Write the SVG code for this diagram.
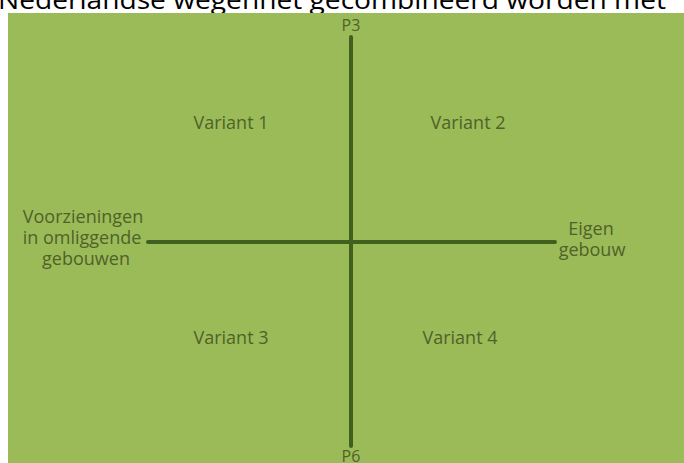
<svg xmlns="http://www.w3.org/2000/svg" width="684" height="463" viewBox="0 0 684 463">
<style>
.lbl{font-family:"Open Sans","Liberation Sans",sans-serif;font-size:18px;fill:#4f6228;text-anchor:middle}
.pl{font-family:"Open Sans","Liberation Sans",sans-serif;font-size:16px;fill:#4f6228;text-anchor:middle}
.ax{stroke:#41601f;stroke-width:4;stroke-linecap:round;fill:none}
</style>
<rect x="0" y="0" width="684" height="463" fill="#ffffff"/>
<text x="-2" y="9" font-family="'Open Sans','Liberation Sans',sans-serif" font-size="25" fill="#000000" textLength="668" lengthAdjust="spacingAndGlyphs">Nederlandse wegennet gecombineerd worden met</text>
<rect x="8" y="13" width="676" height="450" fill="#9bbb59"/>
<g id="connectors">
<line class="ax" x1="351" y1="37" x2="351" y2="446"/>
<line class="ax" x1="148" y1="242" x2="555" y2="242"/>
</g>
<g id="p3"><text class="pl" x="351" y="31">P3</text></g>
<g id="p6"><text class="pl" x="351" y="462">P6</text></g>
<g id="variant1"><text class="lbl" x="231" y="129">Variant 1</text></g>
<g id="variant2"><text class="lbl" x="468" y="129">Variant 2</text></g>
<g id="variant3"><text class="lbl" x="231" y="344">Variant 3</text></g>
<g id="variant4"><text class="lbl" x="460" y="344">Variant 4</text></g>
<g id="left"><text class="lbl" x="83" y="223">Voorzieningen</text><text class="lbl" x="82" y="244">in omliggende</text><text class="lbl" x="86" y="265">gebouwen</text></g>
<g id="right"><text class="lbl" x="591" y="235">Eigen</text><text class="lbl" x="592" y="256">gebouw</text></g>
</svg>
